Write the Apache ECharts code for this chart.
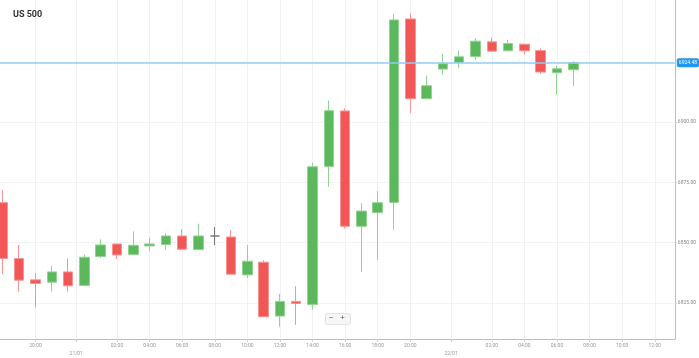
<!DOCTYPE html>
<html><head><meta charset="utf-8">
<script src="https://cdn.jsdelivr.net/npm/echarts@6/dist/echarts.min.js"></script>
<style>html,body{margin:0;padding:0;background:#fff}#c{width:699px;height:358px}</style>
</head><body><div id="c"></div>
<script>
// hourly candles, 18:00 20/01 .. 07:00 22/01 (22:00 break skipped)
const times = ['18:00','19:00','20:00','21:00','23:00','00:00','01:00','02:00','03:00','04:00','05:00','06:00','07:00','08:00','09:00','10:00','11:00','12:00','13:00','14:00','15:00','16:00','17:00','18:00','19:00','20:00','21:00','23:00','00:00','01:00','02:00','03:00','04:00','05:00','06:00','07:00'];
const opens  = [6866.57,6843.46,6834.63,6833.68,6837.93,6832.32,6844.28,6849.48,6845.11,6848.66,6849.24,6852.79,6847.17,6852.79,6852.37,6836.69,6841.93,6819.65,6825.71,6824.47,6881.55,6904.54,6856.79,6862.44,6866.69,6942.63,6909.62,6921.87,6924.60,6927.07,6933.14,6929.43,6932.19,6929.55,6920.35,6921.58];
const closes = [6843.46,6834.50,6833.14,6837.93,6832.15,6844.00,6849.07,6844.94,6848.95,6849.48,6852.79,6847.30,6852.79,6852.79,6836.98,6842.34,6819.36,6825.71,6824.89,6881.43,6904.66,6856.79,6863.10,6866.57,6942.22,6909.62,6914.98,6924.06,6926.95,6933.43,6929.30,6932.44,6929.43,6920.64,6922.00,6924.48];
const lows   = [6836.98,6829.67,6823.24,6829.84,6829.84,6832.00,6843.71,6843.17,6845.00,6846.47,6847.01,6847.20,6847.00,6848.95,6836.90,6835.33,6819.20,6815.23,6816.05,6822.25,6873.17,6855.84,6837.93,6842.88,6855.26,6903.71,6909.50,6919.40,6922.29,6925.71,6929.20,6929.30,6927.90,6919.93,6911.14,6914.89];
const highs  = [6871.77,6849.07,6837.39,6840.40,6843.46,6845.11,6851.42,6849.60,6854.73,6852.13,6853.90,6855.55,6857.90,6856.50,6855.14,6849.07,6842.76,6828.85,6832.03,6883.08,6908.79,6905.61,6866.28,6871.36,6944.70,6944.99,6919.23,6928.19,6929.55,6934.67,6934.92,6933.97,6932.30,6930.38,6923.24,6925.18];
const xLabelPos  = [2,4.5,7,9,11,13,15,17,19,21,23,25,27.5,30,32,34,36,38,40];
const xLabelText = ['20:00','21/01','02:00','04:00','06:00','08:00','10:00','12:00','14:00','16:00','18:00','20:00','22/01','02:00','04:00','06:00','08:00','10:00','12:00'];
const yTicks = [6825,6850,6875,6900];
const lastPrice = 6924.48;
const dojiIndex = 13;

const data = times.map((t, i) => {
  const item = { value: [i, opens[i], closes[i], lows[i], highs[i]] };
  if (i === dojiIndex) item.itemStyle = { color: '#777', color0: '#777', borderColor: '#777', borderColor0: '#777' };
  return item;
});

const chart = echarts.init(document.getElementById('c'), null, { renderer: 'canvas' });
chart.setOption({
  animation: false,
  backgroundColor: '#fff',
  title: { text: 'US 500', left: 8, top: 5, textStyle: { fontSize: 9, fontWeight: 'bold', color: '#333', fontFamily: 'Roboto' } },
  grid: { left: 0, right: 24, top: 0, bottom: 18, containLabel: false },
  xAxis: {
    type: 'value', min: -0.178, max: 41.23,
    axisLine: { show: true, onZero: false, lineStyle: { color: '#bdbdbd' } },
    axisTick: { show: true, customValues: xLabelPos, length: 3, lineStyle: { color: '#d0d0d0' } },
    axisLabel: {
      customValues: xLabelPos, fontSize: 5, color: '#999', margin: 3, lineHeight: 8, fontFamily: 'Roboto',
      formatter: v => { const k = xLabelPos.indexOf(v); const s = xLabelText[k] || ''; return s.indexOf('/') > 0 ? '\n' + s : s; }
    },
    splitLine: { show: true, lineStyle: { color: '#f1f1f1' } }
  },
  yAxis: {
    type: 'value', position: 'right', min: 6810.15, max: 6950.47,
    axisLine: { show: true, onZero: false, lineStyle: { color: '#bdbdbd' } },
    axisTick: { show: true, customValues: yTicks, length: 2, lineStyle: { color: '#ccc' } },
    axisLabel: { customValues: yTicks, fontSize: 5, color: '#888', margin: 3, fontFamily: 'Roboto', formatter: v => v.toFixed(2) },
    splitLine: { show: true, lineStyle: { color: '#f3f3f3' } }
  },
  series: [{
    type: 'candlestick',
    encode: { x: 0, y: [1, 2, 3, 4] },
    barWidth: 10,
    data: data,
    itemStyle: { color: '#5cb85c', borderColor: '#92d392', color0: '#f25757', borderColor0: '#f79393', borderWidth: 1 },
    markLine: {
      symbol: 'none', silent: true, animation: false,
      data: [{ yAxis: lastPrice }],
      lineStyle: { color: '#8fcdf5', width: 1.5, type: 'solid' },
      label: { show: true, position: 'end', distance: 2, formatter: lastPrice.toFixed(2), backgroundColor: '#2196f3', color: '#fff', fontSize: 5, padding: [2, 2], borderRadius: 2, fontFamily: 'Roboto' }
    }
  }],
  graphic: [
    { type: 'rect', left: 325, top: 313, shape: { width: 25, height: 11, r: 2 }, style: { fill: '#f6f6f6', stroke: '#e2e2e2' } },
    { type: 'text', left: 329, top: 314, style: { text: '−', fontSize: 8, fill: '#555' } },
    { type: 'text', left: 340, top: 314, style: { text: '+', fontSize: 8, fill: '#555' } }
  ]
});
</script>
</body></html>
